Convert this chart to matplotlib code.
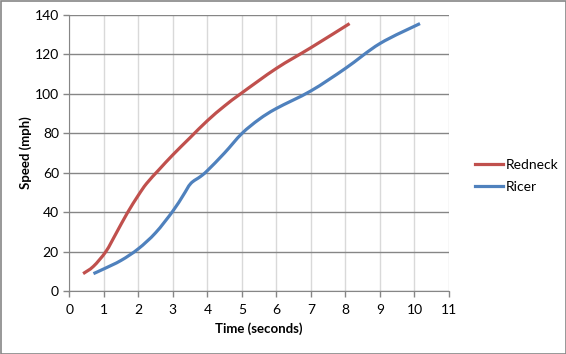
import matplotlib
matplotlib.use("Agg")
import matplotlib.pyplot as plt
from matplotlib.patches import Rectangle, PathPatch
from matplotlib.path import Path
from matplotlib.lines import Line2D

redneck_t = [0.4, 0.7, 1.06, 1.35, 1.68, 2.0, 2.24, 2.6, 3.0, 3.5, 4.0, 4.5, 5.0, 6.0, 7.0, 8.12]
redneck_v = [8.8, 12.5, 20, 29, 39.5, 48.5, 54.5, 61.5, 69, 77.7, 86.3, 93.8, 100.4, 112.8, 123.3, 135.5]
ricer_t = [0.7, 1.0, 1.5, 2.0, 2.5, 3.0, 3.3, 3.52, 3.8, 4.0, 4.5, 5.0, 5.5, 6.0, 7.0, 8.0, 9.0, 10.16]
ricer_v = [8.8, 11.2, 15.5, 21.4, 29.5, 40.5, 48.5, 54.5, 58, 61.0, 70.0, 79.8, 87, 92.5, 101.4, 112.8, 125.4, 135.5]
x_ticks = list(range(0, 12))
y_ticks = list(range(0, 141, 20))

plt.rcParams['font.family'] = ['Lato', 'DejaVu Sans']
fig = plt.figure(figsize=(5.66, 3.54), dpi=100)
ax = fig.add_axes([69.3/566, 1-291/354, (449-69.3)/566, (291-14.7)/354])

red = '#C0504D'
blue = '#4F81BD'


def smooth_path(xs, ys):
    # Excel-style smoothed line: Bezier segments through the data points
    n = len(xs)
    verts = [(xs[0], ys[0])]
    codes = [Path.MOVETO]
    for i in range(n - 1):
        x0, y0 = (xs[i - 1], ys[i - 1]) if i > 0 else (xs[i], ys[i])
        x1, y1 = xs[i], ys[i]
        x2, y2 = xs[i + 1], ys[i + 1]
        x3, y3 = (xs[i + 2], ys[i + 2]) if i + 2 < n else (x2, y2)
        c1 = (x1 + (x2 - x0) / 6, y1 + (y2 - y0) / 6)
        c2 = (x2 - (x3 - x1) / 6, y2 - (y3 - y1) / 6)
        verts += [c1, c2, (x2, y2)]
        codes += [Path.CURVE4] * 3
    return Path(verts, codes)


for xs, ys, c in [(redneck_t, redneck_v, red), (ricer_t, ricer_v, blue)]:
    ax.add_patch(PathPatch(smooth_path(xs, ys), facecolor='none', edgecolor=c, lw=2.3,
                           capstyle='butt', joinstyle='round', zorder=3))

ax.set_xlim(0, 11)
ax.set_ylim(0, 140)
ax.set_xticks(x_ticks)
ax.set_yticks(y_ticks)
ax.grid(axis='y', color='#868686', lw=1.0)
ax.grid(axis='x', color='#d9d9d9', lw=1.0)
ax.set_axisbelow(True)
for s in ['top', 'right']:
    ax.spines[s].set_visible(False)
for s in ['left', 'bottom']:
    ax.spines[s].set_color('#868686')
ax.tick_params(colors='#868686', length=4, width=1, labelcolor='black', labelsize=10)
ax.tick_params(axis='x', pad=5)

ax.set_xlabel('Time (seconds)', fontweight='bold', fontsize=9.5, labelpad=5)
ax.set_ylabel('Speed (mph)', fontweight='bold', fontsize=9.5, labelpad=2)

handles = [Line2D([], [], color=red, lw=2.3), Line2D([], [], color=blue, lw=2.3)]
ax.legend(handles, ['Redneck', 'Ricer'], loc='center left', bbox_to_anchor=(475/566, 1-176/354),
          bbox_transform=fig.transFigure, frameon=False, fontsize=10, borderpad=0, borderaxespad=0,
          handlelength=2.0, handletextpad=0.2, labelspacing=0.75)

fig.patches.append(Rectangle((0.5/566, 0.5/354), 1-1/566, 1-1/354, transform=fig.transFigure,
                             fill=False, edgecolor='#868686', lw=1.2))
fig.savefig('out.png', dpi=100)
